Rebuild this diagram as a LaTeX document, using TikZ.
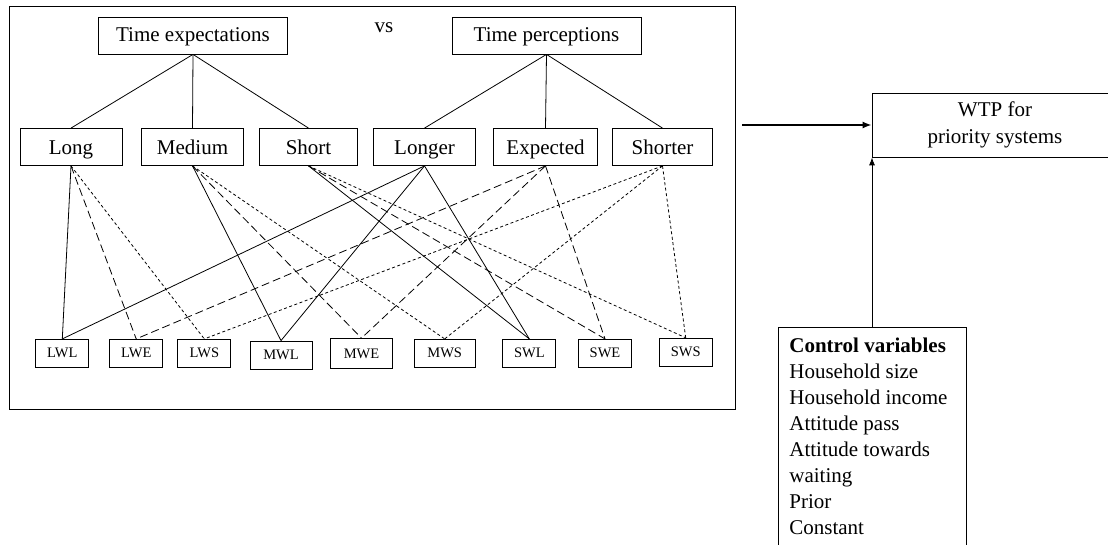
\documentclass[tikz,border=0pt]{standalone}
\usepackage{fontspec}
\setmainfont{Liberation Serif}
\usetikzlibrary{arrows.meta}

\begin{document}
\begin{tikzpicture}[x=1pt, y=-1pt, line width=0.8pt,
  main/.style = {draw, rectangle, inner sep=0pt, minimum height=37pt, text height=15.5pt, text depth=3.5pt, font=\fontsize{21}{26}\selectfont},
  mid/.style = {main, text height=17pt, text depth=1pt},
  leaf/.style = {draw, rectangle, inner sep=0pt, minimum width=53pt, minimum height=28pt, text height=10pt, text depth=1pt, font=\fontsize{14.5}{16}\selectfont},
  longdash/.style = {dash pattern=on 8pt off 4pt},
  shortdash/.style = {dash pattern=on 3pt off 2.5pt}]
\clip (0,0) rectangle (1108,545);

\node[draw, minimum width=726pt, minimum height=403pt] (frame) at (372,207.5) {};

\node[main, minimum width=189pt] (te) at (193,35.5) {Time expectations};
\node[font=\fontsize{21}{26}\selectfont] (vs) at (384,28) {vs};
\node[main, minimum width=189pt] (tp) at (546.5,35.5) {Time perceptions};

\node[mid, minimum width=102pt] (long) at (71,147) {Long};
\node[mid, minimum width=102pt] (medium) at (192.5,147) {Medium};
\node[mid, minimum width=98pt] (short) at (308.5,147) {Short};
\node[mid, minimum width=102pt] (longer) at (424.5,147) {Longer};
\node[mid, minimum width=104pt] (expected) at (545.5,147) {Expected};
\node[mid, minimum width=100pt] (shorter) at (662.5,147) {Shorter};

\draw (te.south) -- (long.north);
\draw (te.south) -- (medium.north);
\draw (te.south) -- (short.north);
\draw (tp.south) -- (longer.north);
\draw (tp.south) -- (expected.north);
\draw (tp.south) -- (shorter.north);

\node[leaf] (lwl) at (62.3,353.3) {LWL};
\node[leaf] (lwe) at (136.2,353.3) {LWE};
\node[leaf] (lws) at (204.3,353.3) {LWS};
\node[leaf, minimum width=62pt] (mwl) at (281,355) {MWL};
\node[leaf, minimum width=62pt, minimum height=30pt] (mwe) at (361.5,353.5) {MWE};
\node[leaf, minimum width=61pt] (mws) at (444.7,353.3) {MWS};
\node[leaf] (swl) at (529.3,353.3) {SWL};
\node[leaf] (swe) at (605,353.3) {SWE};
\node[leaf] (sws) at (685.7,352.2) {SWS};

% expectations
\draw (long.south) -- (lwl.north);
\draw[longdash] (long.south) -- (lwe.north);
\draw[shortdash] (long.south) -- (lws.north);
\draw (medium.south) -- (mwl.north);
\draw[longdash] (medium.south) -- (mwe.north);
\draw[shortdash] (medium.south) -- (mws.north);
\draw (short.south) -- (swl.north);
\draw[longdash] (short.south) -- (swe.north);
\draw[shortdash] (short.south) -- (sws.north);

% perceptions
\draw (longer.south) -- (lwl.north);
\draw (longer.south) -- (mwl.north);
\draw (longer.south) -- (swl.north);
\draw[longdash] (expected.south) -- (lwe.north);
\draw[longdash] (expected.south) -- (mwe.north);
\draw[longdash] (expected.south) -- (swe.north);
\draw[shortdash] (shorter.south) -- (lws.north);
\draw[shortdash] (shorter.south) -- (mws.north);
\draw[shortdash] (shorter.south) -- (sws.north);

\node[draw, align=center, inner sep=0pt, minimum width=246pt, minimum height=64pt,
  font=\fontsize{21}{27}\selectfont] (wtp) at (995,125) {WTP for\\priority systems};
\node[draw, minimum width=188pt, minimum height=233pt] (ctrl) at (872,443.5) {};
\node[anchor=north west, align=left, inner sep=0pt, font=\fontsize{21}{26}\selectfont]
  (ctrltxt) at (789,337.5) {\textbf{Control variables}\\Household size\\Household income\\Attitude pass\\Attitude towards\\waiting\\Prior\\Constant};

\draw[-{Latex[length=9pt, width=7pt]}, line width=1.6pt] ([xshift=7pt]frame.east |- wtp.west) -- (wtp.west);
\draw[-{Latex[length=8pt, width=6pt]}] (ctrl.north) -- (ctrl.north |- wtp.south);

\end{tikzpicture}
\end{document}
